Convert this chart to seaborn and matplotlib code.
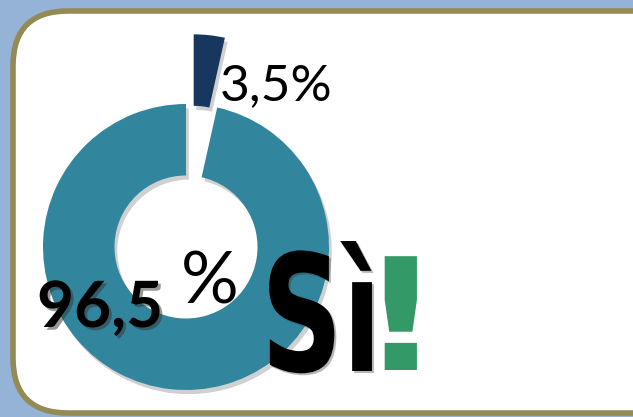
import matplotlib
matplotlib.use("Agg")
import matplotlib.pyplot as plt
import matplotlib.patheffects as pe
from matplotlib.patches import FancyBboxPatch
from matplotlib.transforms import Affine2D
import seaborn as sns

# data
labels = ["Sì", "No"]
shares = [3.5, 96.5]
share_labels = ["3,5%", "96,5"]
colors = ["#17375e", "#31869e"]

sns.set_theme(style="white")
plt.rcParams["font.family"] = ["Lato", "DejaVu Sans"]


class Stretch(pe.AbstractPathEffect):
    # scale the glyphs about the text origin (no condensed font installed)
    def __init__(self, sx=1.0, sy=1.0, shadow=None):
        super().__init__()
        self.sx, self.sy, self.shadow = sx, sy, shadow

    def draw_path(self, renderer, gc, tpath, affine, rgbFace=None):
        aff = Affine2D().scale(self.sx, self.sy) + affine
        if self.shadow is not None:
            gc0 = renderer.new_gc()
            gc0.copy_properties(gc)
            gc0.set_alpha(0.35)
            gc0.set_linewidth(0)
            renderer.draw_path(gc0, tpath, aff + Affine2D().translate(*self.shadow),
                               (0.2, 0.2, 0.2))
            gc0.restore()
        renderer.draw_path(gc, tpath, aff, rgbFace)


fig = plt.figure(figsize=(6.33, 4.17), dpi=100)
fig.patch.set_facecolor("#95b3d7")

# background panel in pixel coords
bg = fig.add_axes([0, 0, 1, 1])
bg.set_xlim(0, 633)
bg.set_ylim(417, 0)
bg.axis("off")
box = FancyBboxPatch((13, 11), 700, 402, boxstyle="round,pad=0,rounding_size=55",
                     fc="white", ec="#948a54", lw=4)
bg.add_patch(box)

# donut
cx, cy, r = 186, 247, 143
ax = fig.add_axes([(cx - r) / 633, (417 - cy - r) / 417, 2 * r / 633, 2 * r / 417])
wedges, _ = ax.pie(shares, colors=colors, startangle=90, counterclock=False,
                   explode=[0.49, 0], wedgeprops=dict(width=0.5, edgecolor="none"))
shadow = [pe.SimplePatchShadow(offset=(2, -3), shadow_rgbFace="#666666", alpha=0.3), pe.Normal()]
for w in wedges:
    w.set_clip_on(False)
    w.set_path_effects(shadow)
ax.set_xlim(-1, 1)
ax.set_ylim(-1, 1)
ax.axis("off")

tshadow = [pe.SimplePatchShadow(offset=(2, -2), shadow_rgbFace="#333333", alpha=0.5), pe.Normal()]
tr = bg.transData
fig.text(220, 100, share_labels[0], transform=tr, fontsize=37, color="black")
fig.text(37, 327, share_labels[1], transform=tr, fontsize=46, fontweight="bold",
         color="black", path_effects=tshadow)
fig.text(181, 303, "%", transform=tr, fontsize=52, color="black")
fig.text(261, 371, labels[0], transform=tr, fontsize=60, fontweight="bold",
         family="DejaVu Sans", color="black",
         path_effects=[Stretch(1.36, 1.95, shadow=(2, -2))])
fig.text(359, 370, "!", transform=tr, fontsize=40, fontweight="bold",
         family="DejaVu Sans", color="#339966", path_effects=[Stretch(3.3, 2.81)])

fig.savefig("out.png", dpi=100, facecolor=fig.get_facecolor())
